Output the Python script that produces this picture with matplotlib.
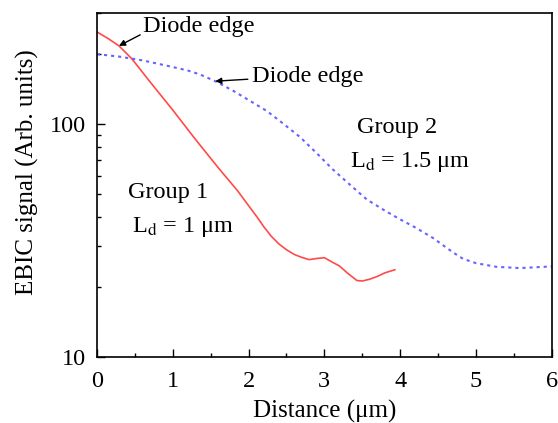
import matplotlib
matplotlib.use("Agg")
import matplotlib.pyplot as plt
from matplotlib.ticker import LogLocator, NullFormatter, FixedLocator, MultipleLocator

plt.rcParams['font.family'] = ['Liberation Serif', 'DejaVu Serif']
plt.rcParams['mathtext.fontset'] = 'stix'

# Group 1 (red, solid)
g1_x = [0, 0.15, 0.29, 0.46, 0.7, 1.0, 1.3, 1.6, 1.85, 2.11, 2.2, 2.3, 2.4, 2.5, 2.6, 2.7,
        2.8, 2.9, 3.0, 3.1, 3.2, 3.3, 3.43, 3.5, 3.6, 3.7, 3.8, 3.93]
g1_y = [249, 233, 217, 191, 152, 115, 86, 65, 52, 40, 36.3, 33, 30.6, 28.9, 27.6, 26.8,
        26.2, 26.5, 26.7, 25.6, 24.6, 23, 21.3, 21.2, 21.6, 22.2, 23, 23.7]

# Group 2 (blue, dashed)
g2_x = [0, 0.3, 0.6, 0.9, 1.2, 1.36, 1.56, 1.8, 2.0, 2.24, 2.45, 2.68, 2.9, 3.11,
        3.35, 3.56, 3.8, 4.0, 4.2, 4.43, 4.56, 4.7, 4.83, 5.0, 5.27, 5.58, 5.8, 6.0]
g2_y = [200, 195, 188, 179, 170, 163.5, 153, 139, 127, 114, 101, 88, 75, 64,
        54.5, 47.5, 42.5, 39, 36, 32.5, 30.3, 28.1, 26.4, 25.3, 24.4, 24.1, 24.3, 24.5]

x_ticks = [0, 1, 2, 3, 4, 5, 6]
y_ticks = [10, 100]

fig = plt.figure(figsize=(5.58, 4.23), dpi=100)
ax = fig.add_axes([0.1738, 0.156, 0.815, 0.813])

ax.plot(g1_x, g1_y, color='#ff4a4a', lw=1.2)
ax.plot(g2_x, g2_y, color='#6464ff', lw=1.5, linestyle=(0, (1.5, 1.9)))

ax.set_yscale('log')
ax.set_xlim(0, 6)
ax.set_ylim(10, 300)
ax.xaxis.set_major_locator(FixedLocator(x_ticks))
ax.xaxis.set_minor_locator(MultipleLocator(0.5))
ax.yaxis.set_major_locator(FixedLocator(y_ticks))
ax.yaxis.set_minor_locator(LogLocator(base=10, subs=range(2, 10)))
ax.yaxis.set_minor_formatter(NullFormatter())
ax.set_yticklabels([str(v) for v in y_ticks])
ax.set_xticklabels([str(v) for v in x_ticks])

ax.tick_params(which='both', direction='in', labelsize=17.5, top=False, right=False)
ax.tick_params(which='major', length=6, width=1)
ax.tick_params(which='minor', length=3, width=1)
ax.tick_params(axis='x', pad=10)
ax.tick_params(axis='y', pad=8)
for s in ax.spines.values():
    s.set_linewidth(1.2)

ax.set_xlabel('Distance (μm)', fontsize=18, labelpad=6)
ax.set_ylabel('EBIC signal (Arb. units)', fontsize=18)
ax.yaxis.set_label_coords(-0.127, 0.538)

arrow = dict(arrowstyle='-|>', color='black', lw=1, mutation_scale=9, shrinkA=0, shrinkB=0)
ax.annotate('', xy=(0.29, 217), xytext=(0.57, 242), arrowprops=arrow)
ax.text(0.61, 262, 'Diode edge', fontsize=17.5, va='center', ha='left')
ax.annotate('', xy=(1.56, 153), xytext=(1.99, 156), arrowprops=arrow)
ax.text(2.04, 161, 'Diode edge', fontsize=17.5, va='center', ha='left')

ax.text(3.43, 97, 'Group 2', fontsize=17.5, va='center', ha='left')
ax.text(3.34, 68.5, 'L$_{\\rm d}$ = 1.5 μm', fontsize=17.5, va='center', ha='left')
ax.text(0.41, 51, 'Group 1', fontsize=17.5, va='center', ha='left')
ax.text(0.46, 36, 'L$_{\\rm d}$ = 1 μm', fontsize=17.5, va='center', ha='left')

fig.savefig('out.png', dpi=100)
